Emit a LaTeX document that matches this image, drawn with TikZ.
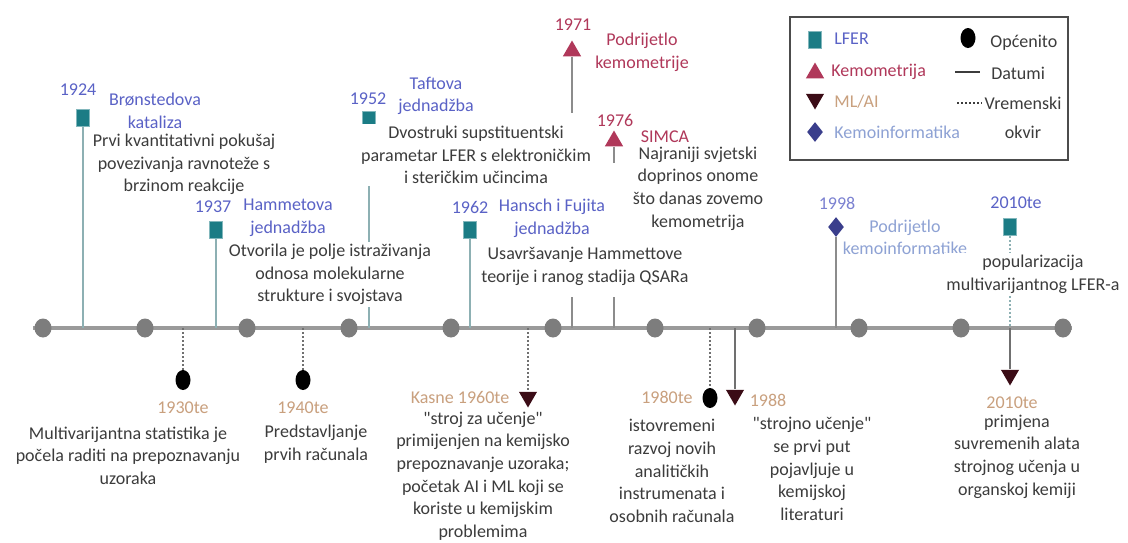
\documentclass[tikz,border=0pt]{standalone}
\usepackage{fontspec}
\setmainfont{Carlito}
\usepackage{tikz}
\usetikzlibrary{shapes.geometric}
\definecolor{lferteal}{HTML}{1B7C85}
\definecolor{lferstem}{HTML}{8DB0B3}
\definecolor{lferblue}{HTML}{5A62C6}
\definecolor{kemored}{HTML}{B0385A}
\definecolor{mlmaroon}{HTML}{3B0C16}
\definecolor{mltan}{HTML}{C9A07E}
\definecolor{kinavy}{HTML}{3A3E8C}
\definecolor{kilight}{HTML}{8EA2D4}
\definecolor{txtgray}{HTML}{3C3C3C}
\definecolor{linegray}{HTML}{9A9A9A}
\definecolor{dotgray}{HTML}{7D7D7D}
\definecolor{stemgray}{HTML}{8C8C8C}

\begin{document}
\begin{tikzpicture}[x=0.5pt,y=-0.5pt,
	every node/.style={font=\fontsize{9}{11.3}\selectfont},
	lfer/.style={draw=lferteal!55!white,line width=0.4pt,fill=lferteal,minimum width=6.5pt,minimum height=8.5pt,inner sep=0pt},
	kemo/.style={regular polygon,regular polygon sides=3,fill=kemored,minimum size=10.5pt,inner sep=0pt},
	mlai/.style={kemo,fill=mlmaroon,shape border rotate=180},
	kinf/.style={diamond,fill=kinavy,minimum width=8pt,minimum height=10pt,inner sep=0pt},
	opce/.style={ellipse,fill=black,minimum width=7.5pt,minimum height=10pt,inner sep=0pt},
	tdot/.style={ellipse,fill=dotgray,minimum width=8.5pt,minimum height=9.5pt,inner sep=0pt},
	desc/.style={align=center,text=txtgray,fill=white,inner sep=1pt},
	god/.style={align=center,inner sep=0.5pt},
	datum/.style={line width=1pt,draw=stemgray},
	okvir/.style={line width=1pt,draw=stemgray!80!black,dash pattern=on 1pt off 1pt}
	]
	\useasboundingbox[fill=white] (0,0) rectangle (1128,542);
	\coordinate (os1) at (33,328);
	\coordinate (os2) at (1072,328);
	\draw[line width=2pt,linegray] (os1) -- (os2);
	\foreach \i in {0,...,10}
		\node[tdot] (g\i) at ({43+102*\i},328) {};

	\foreach \n/\x in {24/83,37/216,52/369,62/470,71/572,76/614,98/836,10/1010,30/183,40/303,60/528,80/710,88/735}
		\coordinate (b\n) at (\x,328);
	\coordinate (k71) at (572,113);
	\coordinate (m71) at (572,297);
	\coordinate (k76) at (614,163);
	\coordinate (m76) at (614,297);

	\node[lfer] (s24) at (83,118) {};
	\node[lfer] (s37) at (216,230) {};
	\node[lfer] (s52) at (369,120) {};
	\node[lfer] (s62) at (470,230) {};
	\node[kemo] (t71) at (572,51) {};
	\node[kemo] (t76) at (614,141) {};
	\node[kinf] (q98) at (836,227) {};
	\node[lfer] (s10) at (1010,227) {};
	\node[opce] (e30) at (183,380) {};
	\node[opce] (e40) at (303,380) {};
	\node[mlai] (v60) at (528,397) {};
	\node[opce] (e80) at (710,398) {};
	\node[mlai] (v88) at (735,395) {};
	\node[mlai] (v10) at (1010,375) {};

	\draw[datum,lferstem] (s24) -- (b24);
	\draw[datum,lferstem] (s37) -- (b37);
	\draw[datum,lferstem] (s52) -- (b52);
	\draw[datum,lferstem] (s62) -- (b62);
	\draw[datum] (t71) -- (k71);
	\draw[datum] (m71) -- (b71);
	\draw[datum] (t76) -- (k76);
	\draw[datum] (m76) -- (b76);
	\draw[datum] (q98) -- (b98);
	\draw[okvir,lferstem] (s10) -- (b10);
	\draw[okvir] (b30) -- (e30);
	\draw[okvir] (b40) -- (e40);
	\draw[okvir] (b60) -- (v60);
	\draw[okvir] (b80) -- (e80);
	\draw[datum,stemgray!80!black] (b88) -- (v88);
	\draw[datum,stemgray!80!black] (b10) -- (v10);

	\node[god,lferblue] (y24) at (78,90) {1924};
	\node[god,lferblue] (h24) at (155,111) {Brønstedova\\kataliza};
	\node[desc] (d24) at (184,164.5) {Prvi kvantitativni pokušaj\\povezivanja ravnoteže s\\brzinom reakcije};
	\node[god,lferblue] (y37) at (213,207) {1937};
	\node[god,lferblue] (h37) at (288,218) {Hammetova\\jednadžba};
	\node[desc] (d37) at (330,274.5) {Otvorila je polje istraživanja\\odnosa molekularne\\strukture i svojstava};
	\node[god,lferblue] (y52) at (368,99) {1952};
	\node[god,lferblue] (h52) at (436,96) {Taftova\\jednadžba};
	\node[desc] (d52) at (476,155) {Dvostruki supstituentski\\parametar LFER s elektroničkim\\i steričkim učincima};
	\node[god,lferblue] (y62) at (470,207) {1962};
	\node[god,lferblue] (h62) at (552,218) {Hansch i Fujita\\jednadžba};
	\node[desc] (d62) at (585,266.5) {Usavršavanje Hammettove\\teorije i ranog stadija QSARa};
	\node[god,kemored] (y71) at (573,25) {1971};
	\node[god,kemored] (h71) at (642,52.5) {Podrijetlo\\kemometrije};
	\node[god,kemored] (y76) at (615,120) {1976};
	\node[god,kemored] (h76) at (665,137) {SIMCA};
	\node[desc] (d76) at (698,188.5) {Najraniji svjetski\\doprinos onome\\što danas zovemo\\kemometrija};
	\node[god,lferblue!80!white] (y98) at (837,203) {1998};
	\node[god,kilight] (h98) at (905,237.5) {Podrijetlo\\kemoinformatike};
	\node[god,lferblue] (y10) at (1016,203) {2010te};
	\node[desc] (d10) at (1033,274) {popularizacija\\multivarijantnog LFER-a};

	\node[god,mltan] (y30) at (183,408) {1930te};
	\node[desc] (d30) at (128,455.5) {Multivarijantna statistika je\\počela raditi na prepoznavanju\\uzoraka};
	\node[god,mltan] (y40) at (303,408) {1940te};
	\node[desc] (d40) at (316,444) {Predstavljanje\\prvih računala};
	\node[god,mltan] (y60) at (460,397) {Kasne 1960te};
	\node[desc] (d60) at (483,476) {\textquotedbl stroj za učenje\textquotedbl\\primijenjen na kemijsko\\prepoznavanje uzoraka;\\početak AI i ML koji se\\koriste u kemijskim\\problemima};
	\node[god,mltan] (y80) at (667,397) {1980te};
	\node[desc] (d80) at (672,471) {istovremeni\\razvoj novih\\analitičkih\\instrumenata i\\osobnih računala};
	\node[god,mltan] (y88) at (768,400) {1988};
	\node[desc] (d88) at (812,469) {\textquotedbl strojno učenje\textquotedbl\\se prvi put\\pojavljuje u\\kemijskoj\\literaturi};
	\node[god,mltan] (z10) at (1012,403) {2010te};
	\node[desc] (d11) at (1017,456.5) {primjena\\suvremenih alata\\strojnog učenja u\\organskoj kemiji};

	\node[draw=gray!60!black,line width=1.2pt,minimum width=139pt,minimum height=71.5pt,inner sep=0pt] (leg) at (929,88.5) {};
	\node[lfer] (ls) at (815,40) {};
	\node[kemo] (lt) at (815,73) {};
	\node[mlai] (lv) at (815,99) {};
	\node[kinf] (lq) at (815,132) {};
	\node[opce] (le) at (968,38) {};
	\coordinate (lc1) at (955,72);
	\coordinate (lc2) at (980,72);
	\coordinate (lc3) at (957,103);
	\coordinate (lc4) at (982,103);
	\draw[datum,txtgray] (lc1) -- (lc2);
	\draw[okvir,txtgray] (lc3) -- (lc4);
	\node[god,anchor=west,lferblue] (lx1) at (833,39) {LFER};
	\node[god,anchor=west,kemored] (lx2) at (830,72) {Kemometrija};
	\node[god,anchor=west,mltan] (lx3) at (833,102) {ML/AI};
	\node[god,anchor=west,kilight] (lx4) at (833,132) {Kemoinformatika};
	\node[god,anchor=west,txtgray] (lx5) at (989,43) {Općenito};
	\node[god,anchor=west,txtgray] (lx6) at (990,73) {Datumi};
	\node[god,txtgray] (lx7) at (1023,117.5) {Vremenski\\[3.3pt]okvir};
\end{tikzpicture}
\end{document}
